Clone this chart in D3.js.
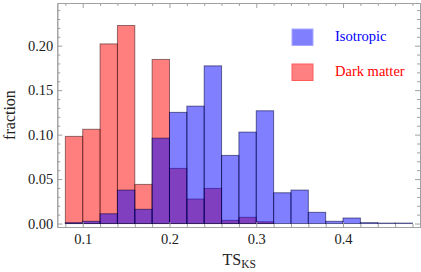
<!DOCTYPE html>
<html>
<head>
<meta charset="utf-8">
<script src="https://cdn.jsdelivr.net/npm/d3@7"></script>
<style>
  html, body { margin: 0; padding: 0; background: #fff; }
  text { font-family: "Liberation Serif", "DejaVu Serif", serif; }
</style>
</head>
<body>
<div id="chart"></div>
<script>
// bins of width 0.02 starting at 0.08
const binStart = 0.08;
const binWidth = 0.02;
const isotropic = [0.001, 0.0025, 0.011, 0.0376, 0.016, 0.096, 0.125, 0.132, 0.1773, 0.0766,
  0.1028, 0.1268, 0.0346, 0.0376, 0.0126, 0.0025, 0.0062, 0.001, 0.0005, 0.0005];
const darkMatter = [0.098, 0.106, 0.202, 0.2227, 0.044, 0.1845, 0.062, 0.0275, 0.0395, 0.0036,
  0.007, 0.002, 0, 0, 0, 0, 0, 0, 0, 0];
const xMajor = [0.1, 0.2, 0.3, 0.4];
const yMajor = [0, 0.05, 0.1, 0.15, 0.2];
const seriesNames = ["Isotropic", "Dark matter"];

const width = 421, height = 272;
const margin = { top: 3, right: 1, bottom: 45, left: 57.3 };

const svg = d3.select("#chart").append("svg")
  .attr("width", width)
  .attr("height", height);

const x = d3.scaleLinear().domain([0.0707, 0.4887]).range([margin.left, width - margin.right]);
const y = d3.scaleLinear().domain([-0.0039, 0.248]).range([height - margin.bottom, margin.top]);

// minor ticks
const xMinor = d3.range(0, 21).map(i => +(0.08 + i * 0.02).toFixed(2)).filter(v => !xMajor.includes(v));
const yMinor = d3.range(0, 25).map(i => +(i * 0.01).toFixed(2)).filter(v => !yMajor.some(m => Math.abs(m - v) < 1e-9));

// bars
function drawSeries(values, fill, stroke) {
  const data = values.map((v, i) => ({ x0: binStart + i * binWidth, x1: binStart + (i + 1) * binWidth, v }))
    .filter(d => d.v > 0);
  svg.append("g").selectAll("rect")
    .data(data)
    .join("rect")
    .attr("x", d => x(d.x0))
    .attr("width", d => x(d.x1) - x(d.x0))
    .attr("y", d => y(d.v))
    .attr("height", d => y(0) - y(d.v))
    .attr("fill", fill)
    .attr("stroke", stroke)
    .attr("stroke-width", 1);
}
drawSeries(darkMatter, "rgba(255,0,0,0.5)", "rgba(60,20,20,0.55)");
drawSeries(isotropic, "rgba(0,0,255,0.5)", "rgba(0,0,60,0.55)");

// frame + ticks
const frameColor = "#a0a0a0";
function styleAxis(g) {
  g.select(".domain").attr("stroke", frameColor);
  g.selectAll(".tick line").attr("stroke", frameColor);
  g.selectAll(".tick text").attr("fill", "#222").attr("font-size", 14.5);
}

const bottomY = height - margin.bottom;
svg.append("g").attr("transform", `translate(0,${bottomY})`)
  .call(d3.axisBottom(x).tickValues(xMinor).tickSize(-3).tickSizeOuter(0).tickFormat(""))
  .call(styleAxis);
svg.append("g").attr("transform", `translate(0,${bottomY})`)
  .call(d3.axisBottom(x).tickValues(xMajor).tickSize(-5).tickSizeOuter(0).tickPadding(7).tickFormat(d3.format(".1f")))
  .call(styleAxis);
svg.append("g").attr("transform", `translate(0,${margin.top})`)
  .call(d3.axisTop(x).tickValues(xMinor).tickSize(-3).tickSizeOuter(0).tickFormat(""))
  .call(styleAxis);
svg.append("g").attr("transform", `translate(0,${margin.top})`)
  .call(d3.axisTop(x).tickValues(xMajor).tickSize(-5).tickSizeOuter(0).tickFormat(""))
  .call(styleAxis);

svg.append("g").attr("transform", `translate(${margin.left},0)`)
  .call(d3.axisLeft(y).tickValues(yMinor).tickSize(-3).tickSizeOuter(0).tickFormat(""))
  .call(styleAxis);
svg.append("g").attr("transform", `translate(${margin.left},0)`)
  .call(d3.axisLeft(y).tickValues(yMajor).tickSize(-5).tickSizeOuter(0).tickPadding(4).tickFormat(d3.format(".2f")))
  .call(styleAxis);
svg.append("g").attr("transform", `translate(${width - margin.right},0)`)
  .call(d3.axisRight(y).tickValues(yMinor).tickSize(-3).tickSizeOuter(0).tickFormat(""))
  .call(styleAxis);
svg.append("g").attr("transform", `translate(${width - margin.right},0)`)
  .call(d3.axisRight(y).tickValues(yMajor).tickSize(-5).tickSizeOuter(0).tickFormat(""))
  .call(styleAxis);

// axis labels
svg.append("text")
  .attr("transform", `translate(15,115) rotate(-90)`)
  .attr("text-anchor", "middle")
  .attr("font-size", 16)
  .attr("fill", "#222")
  .text("fraction");

const xl = svg.append("text")
  .attr("x", 222.5)
  .attr("y", 265)
  .attr("font-size", 16)
  .attr("fill", "#222");
xl.append("tspan").text("TS");
xl.append("tspan").attr("font-size", 11.5).attr("dy", 3).text("KS");

// legend
const legend = [
  { name: seriesNames[0], fill: "#8080ff", stroke: "#a8a8ff", text: "#0000ff", y: 29 },
  { name: seriesNames[1], fill: "#ff8080", stroke: "#ff5c5c", text: "#ff0000", y: 64 }
];
const lg = svg.append("g").selectAll("g").data(legend).join("g");
lg.append("rect")
  .attr("x", 292)
  .attr("y", d => d.y)
  .attr("width", 21)
  .attr("height", 16.5)
  .attr("fill", d => d.fill)
  .attr("stroke", d => d.stroke)
  .attr("stroke-width", 1);
lg.append("text")
  .attr("x", 335)
  .attr("y", d => d.y + 12)
  .attr("font-size", 14.5)
  .attr("fill", d => d.text)
  .text(d => d.name);
</script>
</body>
</html>
